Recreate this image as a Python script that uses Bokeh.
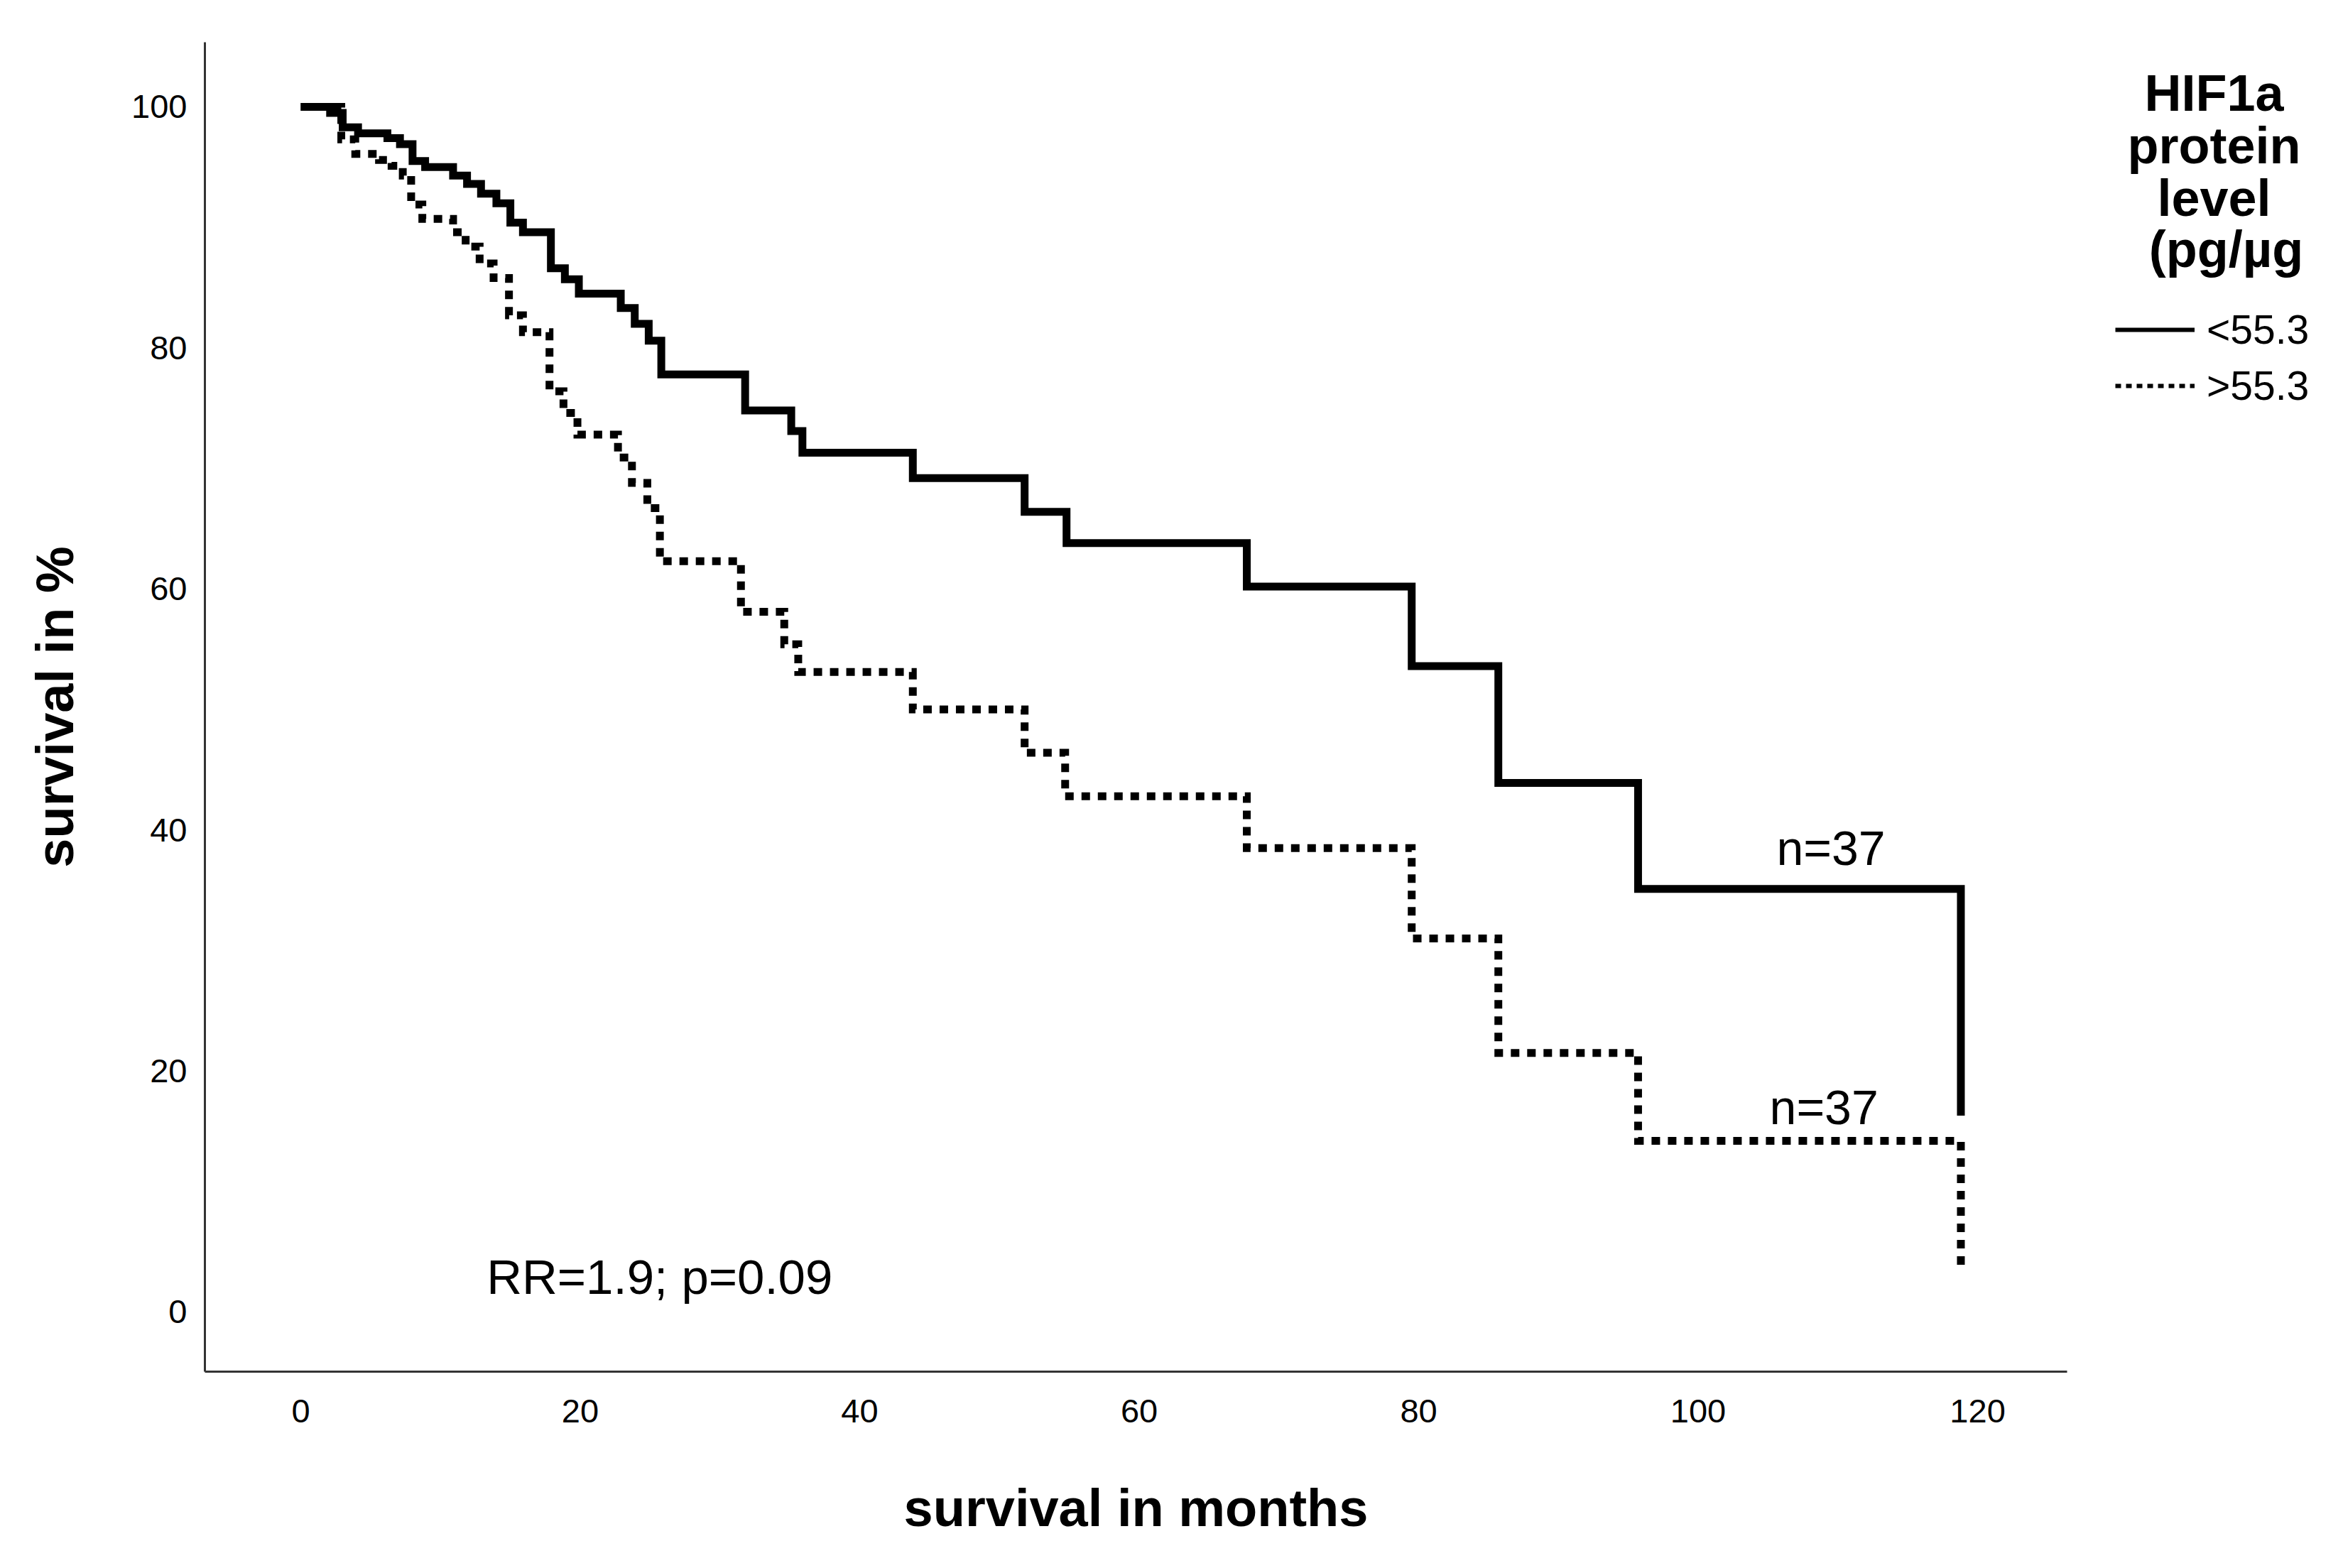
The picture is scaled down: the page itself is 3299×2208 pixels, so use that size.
from bokeh.plotting import figure
from bokeh.layouts import row
from bokeh.models import Range1d, FixedTicker, Label, Legend, LegendItem
from bokeh.embed import file_html
from bokeh.resources import INLINE

# ---- data ----
months_low = [0, 2.1, 3.0, 4.1, 6.2, 7.1, 8.0, 8.9, 10.9, 11.9, 12.9, 14.0, 15.0, 15.9,
              17.9, 18.9, 19.9, 22.9, 23.9, 24.9, 25.8, 31.8, 35.1, 35.9, 43.8, 51.8,
              54.8, 67.7, 79.5, 85.7, 95.7, 118.8]
surv_low = [100, 99.5, 98.3, 97.8, 97.4, 96.9, 95.5, 95.0, 94.3, 93.6, 92.8, 92.0, 90.4, 89.6,
            86.6, 85.7, 84.5, 83.3, 82.0, 80.6, 77.8, 74.8, 73.1, 71.3, 69.2, 66.4,
            63.8, 60.2, 53.6, 43.9, 35.1, 16.3]

months_high = [0, 2.9, 3.9, 5.6, 6.5, 7.3, 7.9, 8.7, 10.9, 11.8, 12.8, 13.8, 14.9, 15.9,
               17.8, 18.8, 19.8, 22.7, 23.7, 24.8, 25.7, 31.5, 34.6, 35.6, 43.8, 51.8,
               54.7, 67.7, 79.5, 85.7, 95.7, 118.8]
surv_high = [100, 97.3, 96.1, 95.6, 95.1, 94.3, 91.9, 90.7, 89.6, 88.4, 87.0, 85.8, 82.7, 81.3,
             76.4, 74.6, 72.8, 70.9, 68.8, 66.7, 62.3, 58.1, 55.4, 53.1, 50.0, 46.4,
             42.8, 38.5, 31.0, 21.5, 14.2, 3.5]

x_ticks = [0, 20, 40, 60, 80, 100, 120]
y_ticks = [0, 20, 40, 60, 80, 100]
group_labels = ["<55.3", ">55.3"]
n_labels = ["n=37", "n=37"]
n_label_pos = [(109.5, 38.5), (109.0, 17.0)]
stat_text = "RR=1.9; p=0.09"
stat_pos = (13.3, 2.9)
legend_title_lines = ["HIF1a", "protein", "level", "(pg/\u00b5g"]

FONT = "Liberation Sans"

W1, W2, H = 2940, 343, 2192
FRAME_L, FRAME_R, FRAME_T, FRAME_B = 288, 2910, 59, 1931

# ---------------- main chart ----------------
p = figure(width=W1, height=H, output_backend="svg", toolbar_location=None,
           x_range=Range1d(-6.86, 126.4), y_range=Range1d(-4.95, 105.36),
           min_border_left=FRAME_L, min_border_right=W1 - FRAME_R, min_border_top=FRAME_T,
           min_border_bottom=H - FRAME_B)
p.outline_line_color = None
p.grid.visible = False
p.background_fill_color = "white"
p.border_fill_color = "white"

p.step(x=months_low, y=surv_low, mode="after", line_width=11, line_color="black",
       line_join="miter")
p.step(x=months_high, y=surv_high, mode="after", line_width=11, line_color="black",
       line_dash="12 11", line_join="miter")

for txt, (lx, ly) in zip(n_labels, n_label_pos):
    p.add_layout(Label(x=lx, y=ly, text=txt, text_align="center", text_baseline="middle",
                       text_font=FONT, text_font_size="68px", text_color="black"))

p.add_layout(Label(x=stat_pos[0], y=stat_pos[1], text=stat_text, text_align="left",
                   text_baseline="middle", text_font=FONT, text_font_size="69px",
                   text_color="black"))

p.xaxis.ticker = FixedTicker(ticks=x_ticks)
p.yaxis.ticker = FixedTicker(ticks=y_ticks)
p.xaxis.axis_label = "survival in months"
p.yaxis.axis_label = "survival in %"
for ax in (p.xaxis, p.yaxis):
    ax.axis_label_text_font = FONT
    ax.axis_label_text_font_size = "74px"
    ax.axis_label_text_font_style = "bold"
    ax.axis_label_text_color = "black"
    ax.major_label_text_font = FONT
    ax.major_label_text_font_size = "47px"
    ax.major_label_text_color = "black"
    ax.major_tick_line_color = None
    ax.minor_tick_line_color = None
    ax.major_tick_in = 0
    ax.major_tick_out = 0
    ax.axis_line_color = "#333333"
    ax.axis_line_width = 3
p.xaxis.major_label_standoff = 39
p.yaxis.major_label_standoff = 25
p.xaxis.axis_label_standoff = 76
p.yaxis.axis_label_standoff = 63

# ---------------- legend panel ----------------
# coordinates here equal page pixels (x right, y down); borders match the main chart
q = figure(width=W2, height=H, output_backend="svg", toolbar_location=None,
           x_range=Range1d(W1, W1 + W2), y_range=Range1d(FRAME_B, FRAME_T),
           x_axis_type=None, y_axis_type=None,
           min_border_left=0, min_border_right=0, min_border_top=FRAME_T,
           min_border_bottom=H - FRAME_B)
q.outline_line_color = None
q.grid.visible = False
q.background_fill_color = "white"
q.border_fill_color = "white"

# same series drawn thin for the legend samples (they fall outside this panel's range)
leg_solid = q.step(x=months_low, y=surv_low, mode="after", line_width=6, line_color="black")
leg_dot = q.step(x=months_high, y=surv_high, mode="after", line_width=6, line_color="black",
                 line_dash="8 7")

legend = Legend(items=[LegendItem(label=group_labels[0], renderers=[leg_solid]),
                       LegendItem(label=group_labels[1], renderers=[leg_dot])],
                location=(38, FRAME_B - 576), orientation="vertical",
                glyph_width=112, glyph_height=40, label_height=40, label_standoff=17,
                spacing=13, padding=0, margin=0, border_line_color=None,
                background_fill_alpha=0, label_text_font=FONT,
                label_text_font_size="57px", label_text_color="black")
q.add_layout(legend, "center")

title_cx = [3117, 3117, 3117, 3134]
title_cy = [130, 204, 278, 350]
for txt, cx, cy in zip(legend_title_lines, title_cx, title_cy):
    q.add_layout(Label(x=cx, y=cy, text=txt, text_align="center", text_baseline="middle",
                       text_font=FONT, text_font_size="72px", text_font_style="bold",
                       text_color="black"))

layout = row(p, q)
open("out.html", "w").write(file_html(layout, INLINE))
